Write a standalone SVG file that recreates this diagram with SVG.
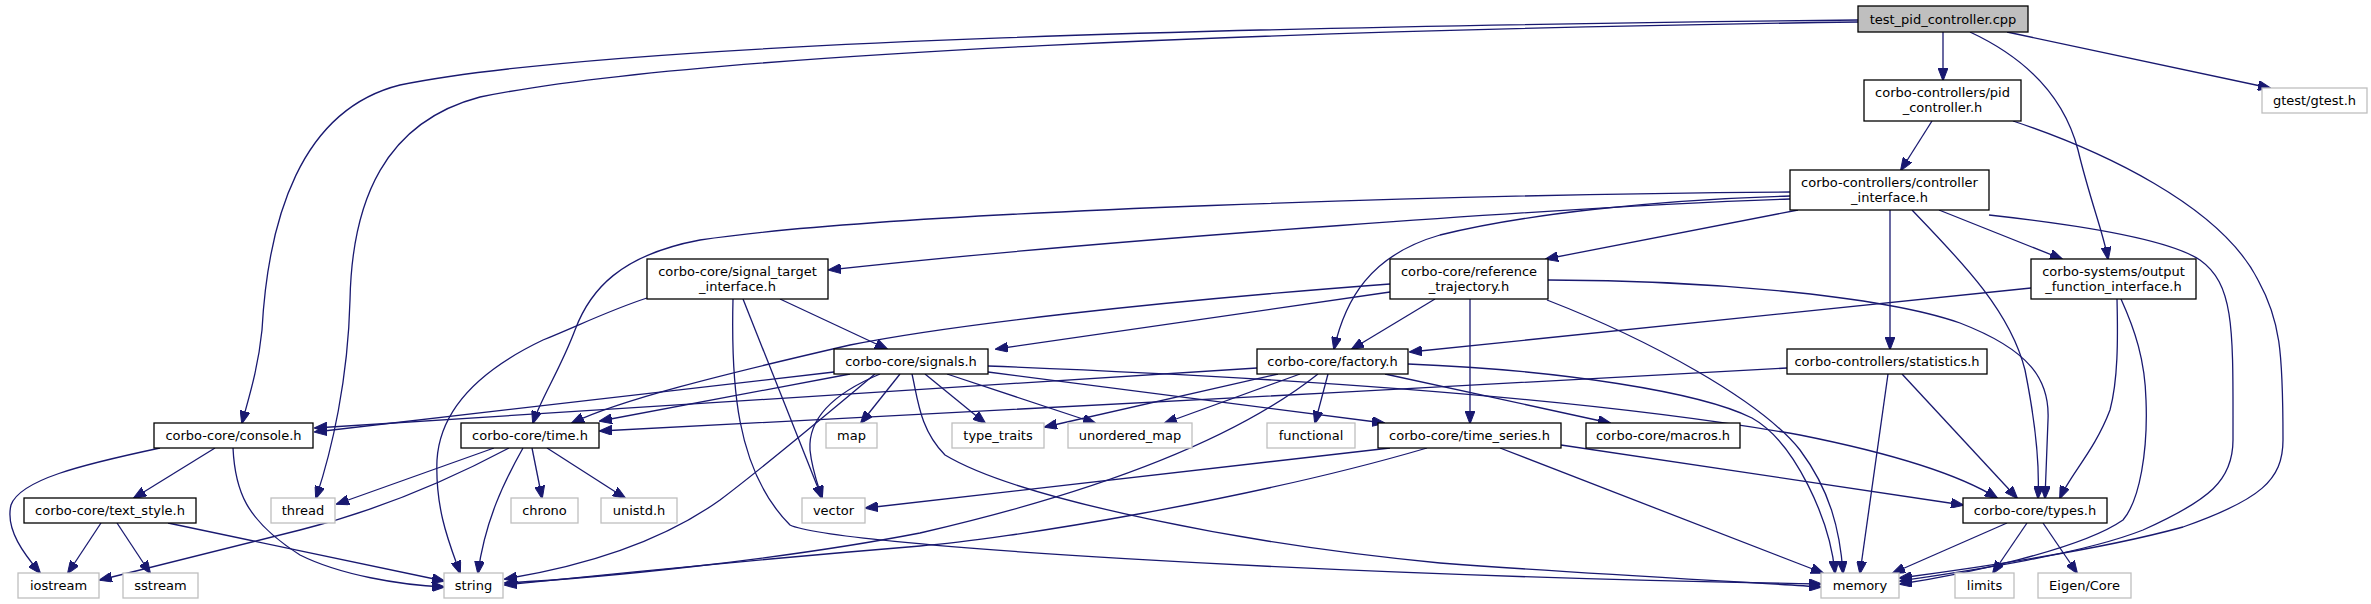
<svg xmlns="http://www.w3.org/2000/svg" width="2371" height="604" viewBox="0 0 2371 604">
<defs>
<marker id="a" markerWidth="13" markerHeight="10" refX="12" refY="5" orient="auto" markerUnits="userSpaceOnUse"><path d="M0,0 L13,5 L0,10 z" fill="#191970" stroke="#191970" stroke-width="1"/></marker>
</defs>
<style>
.n rect{fill:#fff;stroke:#000;stroke-width:1.3}
.g rect{fill:#fff;stroke:#bfbfbf;stroke-width:1.3}
.r rect{fill:#bfbfbf;stroke:#000;stroke-width:1.3}
text{font-family:"DejaVu Sans","Liberation Sans",sans-serif;font-size:13px;fill:#000;text-anchor:middle}
#edges path{fill:none;stroke:#191970;stroke-width:1.3;marker-end:url(#a)}
</style>
<rect x="0" y="0" width="2371" height="604" fill="#fff"/>
<g id="edges">
<path d="M1943,32 L1943,80"/>
<path d="M2007,32 L2270,88"/>
<path d="M1858,20 C1300,26 620,40 400,85 C300,110 268,220 262,330 C258,370 248,400 242,423"/>
<path d="M1858,22 C1300,30 700,52 480,97 C385,122 352,200 350,300 C348,380 332,450 316,498"/>
<path d="M1970,32 C2030,60 2065,100 2078,150 C2090,200 2104,235 2108,259"/>
<path d="M1932,121 L1901,170"/>
<path d="M2013,121 C2100,150 2220,205 2258,280 C2280,320 2283,350 2283,440 C2283,480 2260,500 2183,527 C2100,550 1960,570 1900,578"/>
<path d="M1790,199 C1600,205 1100,240 829,270"/>
<path d="M1790,192 C1500,194 900,210 700,240 C620,255 590,290 575,330 C560,370 540,400 533,423"/>
<path d="M1790,196 C1650,200 1520,215 1440,235 C1370,255 1345,300 1334,349"/>
<path d="M1798,210 L1546,259"/>
<path d="M1939,210 L2062,259"/>
<path d="M1890,210 L1890,349"/>
<path d="M1912,210 C1960,260 2010,310 2025,370 C2035,420 2040,460 2038,498"/>
<path d="M1989,215 C2080,225 2170,240 2200,260 C2235,285 2233,330 2233,440 C2233,480 2210,500 2143,530 C2080,555 1960,572 1900,581"/>
<path d="M780,299 L887,349"/>
<path d="M647,298 C610,310 580,325 543,340 C480,370 440,410 437,460 C435,510 450,545 460,573"/>
<path d="M743,299 L822,498"/>
<path d="M733,299 C731,380 735,470 790,525 C830,545 1300,575 1821,584"/>
<path d="M1390,292 L996,349"/>
<path d="M1390,284 C1150,302 950,325 850,345 C720,375 620,400 572,423"/>
<path d="M1435,299 L1352,349"/>
<path d="M1470,299 L1470,423"/>
<path d="M1548,280 C1700,280 1880,295 1960,323 C2030,350 2050,380 2048,420 C2047,450 2046,470 2045,498"/>
<path d="M1547,300 C1650,340 1760,400 1800,450 C1830,490 1840,530 1843,573"/>
<path d="M2031,288 L1410,352"/>
<path d="M2117,299 C2118,340 2118,380 2110,410 C2095,450 2070,475 2060,498"/>
<path d="M2121,299 C2135,330 2145,360 2146,400 C2148,450 2140,500 2123,520 C2080,550 1960,575 1900,584"/>
<path d="M834,372 L315,432"/>
<path d="M850,374 L600,421"/>
<path d="M900,374 L861,423"/>
<path d="M925,374 L985,423"/>
<path d="M947,374 L1095,423"/>
<path d="M880,374 C830,395 808,420 810,450 C812,470 818,485 822,498"/>
<path d="M875,374 C820,420 760,470 720,500 C650,550 560,570 505,579"/>
<path d="M912,374 C918,400 920,430 945,455 C1020,500 1250,545 1440,563 C1600,575 1750,582 1821,587"/>
<path d="M988,372 L1384,423"/>
<path d="M988,366 C1300,378 1600,400 1800,435 C1900,455 1960,475 1997,498"/>
<path d="M1257,368 L315,428"/>
<path d="M1278,374 L1045,427"/>
<path d="M1300,374 L1165,423"/>
<path d="M1328,374 L1315,423"/>
<path d="M1385,374 L1610,423"/>
<path d="M1318,374 C1260,420 1150,480 920,533 C780,560 600,578 505,583"/>
<path d="M1408,364 C1560,370 1700,392 1752,418 C1795,442 1830,520 1835,573"/>
<path d="M1787,368 C1400,390 900,415 600,431"/>
<path d="M1902,374 L2017,498"/>
<path d="M1888,374 L1860,573"/>
<path d="M160,448 C80,465 20,480 11,505 C5,530 25,555 40,573"/>
<path d="M215,448 L134,498"/>
<path d="M233,448 C235,490 245,520 300,555 C340,575 400,585 444,587"/>
<path d="M494,448 L337,504"/>
<path d="M532,448 L542,498"/>
<path d="M547,448 L625,498"/>
<path d="M523,448 C505,480 485,520 478,573"/>
<path d="M509,448 C430,490 360,515 300,530 C220,550 150,568 100,580"/>
<path d="M1390,448 L866,508"/>
<path d="M1561,445 L1963,505"/>
<path d="M1427,448 C1250,500 1000,540 920,546 C750,560 600,575 505,585"/>
<path d="M1500,448 L1823,573"/>
<path d="M101,523 L68,573"/>
<path d="M117,523 L150,573"/>
<path d="M168,523 L444,581"/>
<path d="M2007,523 L1893,573"/>
<path d="M2027,523 L1993,573"/>
<path d="M2043,523 L2077,573"/>
</g>
<g id="n1" class="r"><rect x="1858" y="6" width="170" height="26"/><text x="1943" y="23.5">test_pid_controller.cpp</text></g>
<g id="n2" class="n"><rect x="1864" y="80" width="157" height="41"/><text x="1942.5" y="97">corbo-controllers/pid</text><text x="1942.5" y="112">_controller.h</text></g>
<g id="n3" class="g"><rect x="2262" y="88" width="105" height="25"/><text x="2314.5" y="105">gtest/gtest.h</text></g>
<g id="n4" class="n"><rect x="1790" y="170" width="199" height="40"/><text x="1889.5" y="187">corbo-controllers/controller</text><text x="1889.5" y="202">_interface.h</text></g>
<g id="n5" class="n"><rect x="647" y="259" width="181" height="40"/><text x="737.5" y="276">corbo-core/signal_target</text><text x="737.5" y="291">_interface.h</text></g>
<g id="n6" class="n"><rect x="1390" y="259" width="158" height="40"/><text x="1469" y="276">corbo-core/reference</text><text x="1469" y="291">_trajectory.h</text></g>
<g id="n7" class="n"><rect x="2031" y="259" width="165" height="40"/><text x="2113.5" y="276">corbo-systems/output</text><text x="2113.5" y="291">_function_interface.h</text></g>
<g id="n8" class="n"><rect x="834" y="349" width="154" height="25"/><text x="911" y="366">corbo-core/signals.h</text></g>
<g id="n9" class="n"><rect x="1257" y="349" width="151" height="25"/><text x="1332.5" y="366">corbo-core/factory.h</text></g>
<g id="n10" class="n"><rect x="1787" y="349" width="200" height="25"/><text x="1887" y="366">corbo-controllers/statistics.h</text></g>
<g id="n11" class="n"><rect x="154" y="423" width="159" height="25"/><text x="233.5" y="440">corbo-core/console.h</text></g>
<g id="n12" class="n"><rect x="461" y="423" width="138" height="25"/><text x="530" y="440">corbo-core/time.h</text></g>
<g id="n13" class="g"><rect x="826" y="423" width="51" height="25"/><text x="851.5" y="440">map</text></g>
<g id="n14" class="g"><rect x="952" y="423" width="92" height="25"/><text x="998" y="440">type_traits</text></g>
<g id="n15" class="g"><rect x="1068" y="423" width="124" height="25"/><text x="1130" y="440">unordered_map</text></g>
<g id="n16" class="g"><rect x="1267" y="423" width="88" height="25"/><text x="1311" y="440">functional</text></g>
<g id="n17" class="n"><rect x="1378" y="423" width="183" height="25"/><text x="1469.5" y="440">corbo-core/time_series.h</text></g>
<g id="n18" class="n"><rect x="1586" y="423" width="154" height="25"/><text x="1663" y="440">corbo-core/macros.h</text></g>
<g id="n19" class="n"><rect x="24" y="498" width="172" height="25"/><text x="110" y="515">corbo-core/text_style.h</text></g>
<g id="n20" class="g"><rect x="271" y="498" width="64" height="25"/><text x="303" y="515">thread</text></g>
<g id="n21" class="g"><rect x="511" y="498" width="67" height="25"/><text x="544.5" y="515">chrono</text></g>
<g id="n22" class="g"><rect x="601" y="498" width="76" height="25"/><text x="639" y="515">unistd.h</text></g>
<g id="n23" class="g"><rect x="802" y="498" width="63" height="25"/><text x="833.5" y="515">vector</text></g>
<g id="n24" class="n"><rect x="1963" y="498" width="144" height="25"/><text x="2035" y="515">corbo-core/types.h</text></g>
<g id="n25" class="g"><rect x="18" y="573" width="81" height="25"/><text x="58.5" y="590">iostream</text></g>
<g id="n26" class="g"><rect x="123" y="573" width="75" height="25"/><text x="160.5" y="590">sstream</text></g>
<g id="n27" class="g"><rect x="444" y="573" width="59" height="25"/><text x="473.5" y="590">string</text></g>
<g id="n28" class="g"><rect x="1821" y="573" width="78" height="25"/><text x="1860" y="590">memory</text></g>
<g id="n29" class="g"><rect x="1955" y="573" width="59" height="25"/><text x="1984.5" y="590">limits</text></g>
<g id="n30" class="g"><rect x="2038" y="573" width="93" height="25"/><text x="2084.5" y="590">Eigen/Core</text></g>
</svg>
